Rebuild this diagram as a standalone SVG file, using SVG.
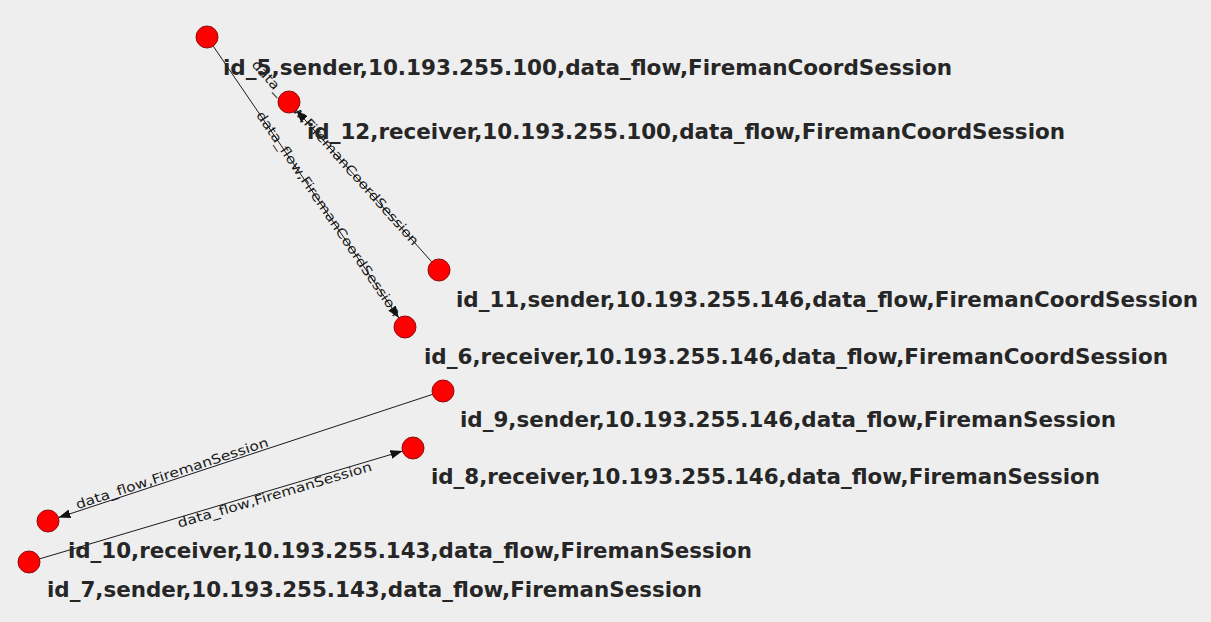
<svg xmlns="http://www.w3.org/2000/svg" width="1211" height="622" viewBox="0 0 1211 622">
  <defs>
    <style>
      .bg { fill: #eeeeee; }
      .node circle { fill: #ff0000; stroke: #8a1010; stroke-width: 1; }
      .node text { font-family: "DejaVu Sans", "Liberation Sans", sans-serif; font-weight: bold; font-size: 21px; fill: #262626; }
      .edge line { stroke: #1a1a1a; stroke-width: 1; }
      .elabel { font-family: "DejaVu Sans", "Liberation Sans", sans-serif; font-size: 13px; fill: #1a1a1a; }
    </style>
    <marker id="arrow" viewBox="0 0 12 9" refX="12" refY="4.5" markerWidth="12" markerHeight="9" markerUnits="userSpaceOnUse" orient="auto">
      <path d="M0,0 L12,4.5 L0,9 Z" fill="#111111"/>
    </marker>
  </defs>
  <rect class="bg" x="0" y="0" width="1211" height="622"/>

  <g id="connectors">
    <g class="edge" id="e_5_6">
      <line x1="213.2" y1="46.1" x2="398.8" y2="317.9" marker-end="url(#arrow)"/>
      <text class="elabel" x="328" y="214" dy="4" text-anchor="middle" textLength="245" lengthAdjust="spacingAndGlyphs" transform="rotate(55.7 328 214)">data_flow,FiremanCoordSession</text>
    </g>
    <g class="edge" id="e_11_12">
      <line x1="431.7" y1="261.8" x2="296.3" y2="110.2" marker-end="url(#arrow)"/>
      <text class="elabel" x="335" y="153" dy="4" text-anchor="middle" textLength="243" lengthAdjust="spacingAndGlyphs" transform="rotate(48.2 335 153)">data_flow,FiremanCoordSession</text>
    </g>
    <g class="edge" id="e_9_10">
      <line x1="432.5" y1="394.4" x2="58.5" y2="517.6" marker-end="url(#arrow)"/>
      <text class="elabel" x="174" y="479.5" dy="-2" text-anchor="middle" textLength="202" lengthAdjust="spacingAndGlyphs" transform="rotate(-18.2 174 479.5)">data_flow,FiremanSession</text>
    </g>
    <g class="edge" id="e_7_8">
      <line x1="39.5" y1="558.9" x2="402.5" y2="451.1" marker-end="url(#arrow)"/>
      <text class="elabel" x="273" y="489.6" dy="10" text-anchor="middle" textLength="202" lengthAdjust="spacingAndGlyphs" transform="rotate(-16.5 273 489.6)">data_flow,FiremanSession</text>
    </g>
  </g>

  <g class="node" id="id_5">
    <circle cx="207" cy="37" r="11"/>
    <text x="223" y="75" textLength="729" lengthAdjust="spacingAndGlyphs">id_5,sender,10.193.255.100,data_flow,FiremanCoordSession</text>
  </g>
  <g class="node" id="id_12">
    <circle cx="289" cy="102" r="11"/>
    <text x="307" y="139" textLength="758" lengthAdjust="spacingAndGlyphs">id_12,receiver,10.193.255.100,data_flow,FiremanCoordSession</text>
  </g>
  <g class="node" id="id_11">
    <circle cx="439" cy="270" r="11"/>
    <text x="456" y="307" textLength="742" lengthAdjust="spacingAndGlyphs">id_11,sender,10.193.255.146,data_flow,FiremanCoordSession</text>
  </g>
  <g class="node" id="id_6">
    <circle cx="405" cy="327" r="11"/>
    <text x="424" y="364" textLength="744" lengthAdjust="spacingAndGlyphs">id_6,receiver,10.193.255.146,data_flow,FiremanCoordSession</text>
  </g>
  <g class="node" id="id_9">
    <circle cx="443" cy="391" r="11"/>
    <text x="460" y="427" textLength="656" lengthAdjust="spacingAndGlyphs">id_9,sender,10.193.255.146,data_flow,FiremanSession</text>
  </g>
  <g class="node" id="id_8">
    <circle cx="413" cy="448" r="11"/>
    <text x="431" y="484" textLength="669" lengthAdjust="spacingAndGlyphs">id_8,receiver,10.193.255.146,data_flow,FiremanSession</text>
  </g>
  <g class="node" id="id_10">
    <circle cx="48" cy="521" r="11"/>
    <text x="68" y="558" textLength="684" lengthAdjust="spacingAndGlyphs">id_10,receiver,10.193.255.143,data_flow,FiremanSession</text>
  </g>
  <g class="node" id="id_7">
    <circle cx="29" cy="562" r="11"/>
    <text x="47" y="597" textLength="655" lengthAdjust="spacingAndGlyphs">id_7,sender,10.193.255.143,data_flow,FiremanSession</text>
  </g>
</svg>
